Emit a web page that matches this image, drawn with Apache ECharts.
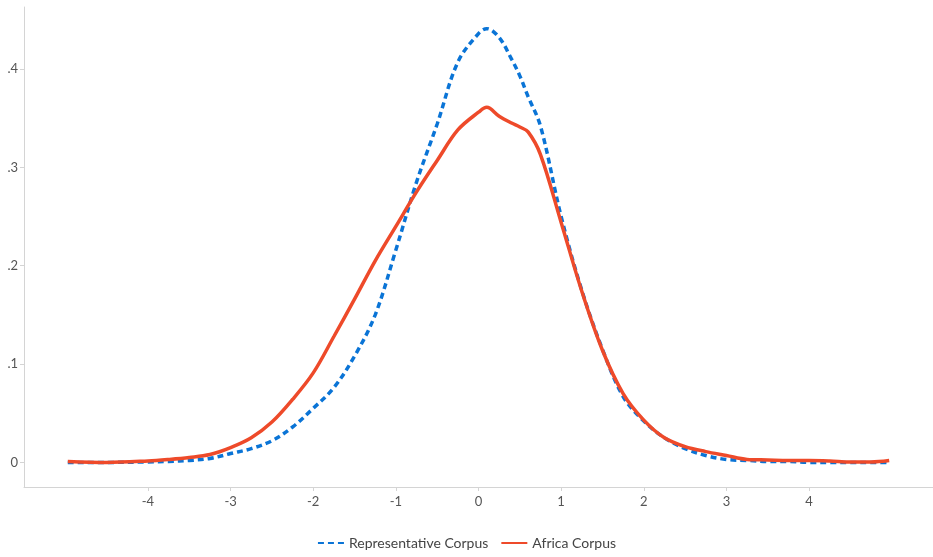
<!DOCTYPE html>
<html><head><meta charset="utf-8">
<script src="https://cdn.jsdelivr.net/npm/echarts@6/dist/echarts.min.js"></script>
<style>html,body{margin:0;padding:0;background:#fff}#c{width:933px;height:557px}</style>
</head><body><div id="c"></div>
<script>
var xValues = [-4.97,-4.5,-4,-3.75,-3.5,-3.25,-3,-2.75,-2.5,-2.25,-2,-1.75,-1.5,-1.25,-1,-0.75,-0.5,-0.25,0,0.1,0.25,0.4,0.5,0.6,0.75,1,1.25,1.5,1.75,2,2.25,2.5,2.75,3,3.25,3.5,3.75,4,4.25,4.5,4.75,4.97];
var representative = [0,0,0.0005,0.001,0.002,0.004,0.009,0.014,0.022,0.036,0.055,0.076,0.108,0.150,0.216,0.285,0.344,0.407,0.436,0.441,0.432,0.410,0.393,0.372,0.342,0.250,0.175,0.115,0.067,0.042,0.025,0.014,0.007,0.003,0.002,0.001,0.001,0,0,0,0,0];
var africa = [0.001,0,0.0015,0.003,0.005,0.008,0.015,0.025,0.041,0.064,0.091,0.128,0.166,0.205,0.240,0.275,0.307,0.338,0.356,0.361,0.352,0.345,0.341,0.336,0.313,0.244,0.174,0.114,0.070,0.043,0.025,0.016,0.011,0.007,0.003,0.0025,0.002,0.002,0.0015,0.0005,0.0005,0.002];
var xTicks = [-4,-3,-2,-1,0,1,2,3,4];
var yTicks = [0,0.1,0.2,0.3,0.4];
var yTickLabels = ['0','.1','.2','.3','.4'];
var seriesNames = ['Representative Corpus','Africa Corpus'];

function pairs(ys){return xValues.map(function(x,i){return [x,ys[i]];});}
var chart = echarts.init(document.getElementById('c'));
var axisCol = '#d4d4d4', txtCol = '#555';
chart.setOption({
  backgroundColor:'#fff',
  animation:false,
  textStyle:{fontFamily:'Lato'},
  grid:{left:24,right:0,top:7,bottom:70,containLabel:false},
  legend:{bottom:2,left:'center',itemWidth:26,itemHeight:12,itemGap:12,
    itemStyle:{opacity:0},
    textStyle:{color:'#444',fontSize:14,fontFamily:'Lato'},data:seriesNames},
  xAxis:{type:'value',min:-5.5,max:5.5,
    axisLine:{onZero:false,lineStyle:{color:axisCol,width:1}},
    axisTick:{show:true,length:4,lineStyle:{color:axisCol},customValues:xTicks},
    axisLabel:{color:txtCol,fontSize:13,margin:8,customValues:xTicks,formatter:function(v){return String(v);}},
    splitLine:{show:false}},
  yAxis:{type:'value',min:-0.025,max:0.463,
    axisLine:{show:true,onZero:false,lineStyle:{color:axisCol,width:1}},
    axisTick:{show:true,length:4,lineStyle:{color:axisCol},customValues:yTicks},
    axisLabel:{color:txtCol,fontSize:13,margin:6,customValues:yTicks,
      formatter:function(v){var i=yTicks.findIndex(function(t){return Math.abs(t-v)<1e-9;});return i>=0?yTickLabels[i]:'';}},
    splitLine:{show:false}},
  series:[
    {name:seriesNames[0],type:'line',data:pairs(representative),symbol:'none',smooth:0.35,
      color:'#0a74d6',lineStyle:{color:'#0a74d6',width:3.5,type:[6,4]},z:2},
    {name:seriesNames[1],type:'line',data:pairs(africa),symbol:'none',smooth:0.35,
      color:'#ee4a2a',lineStyle:{color:'#ee4a2a',width:3.5},z:3}
  ]
});
</script></body></html>
